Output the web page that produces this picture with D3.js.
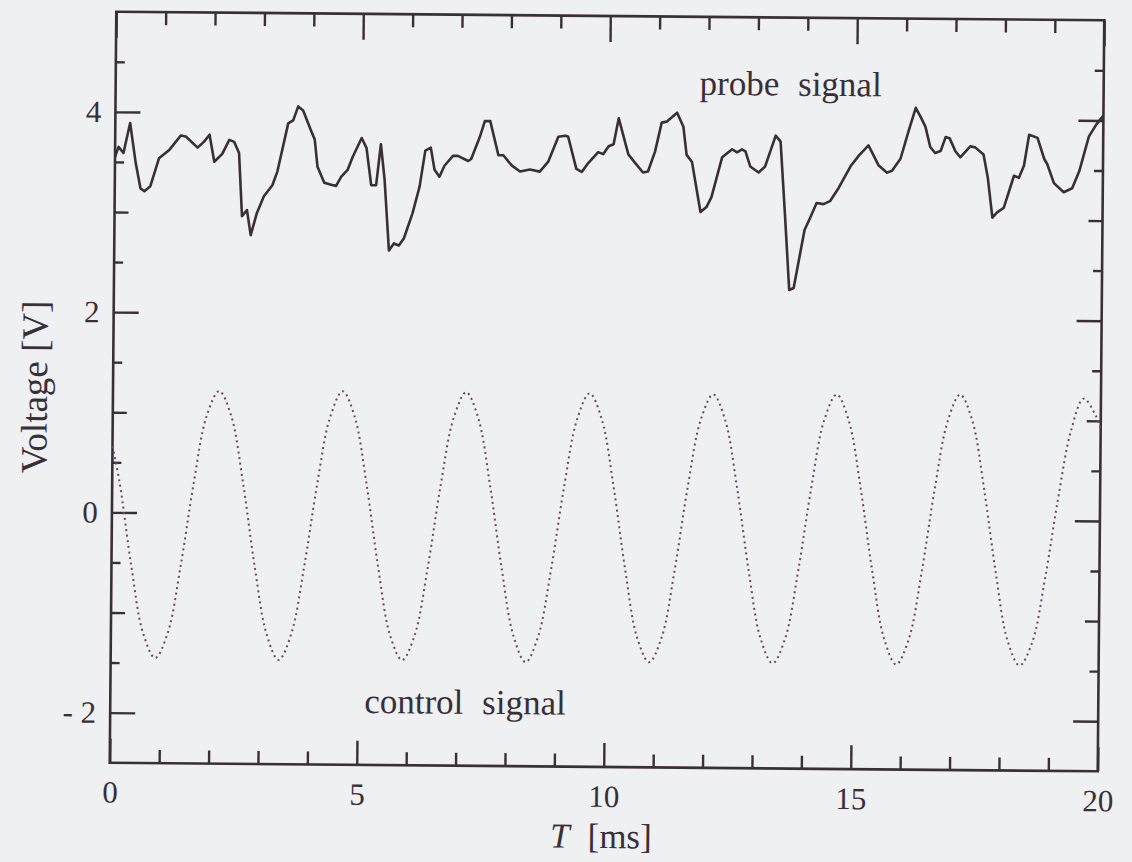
<!DOCTYPE html>
<html>
<head>
<meta charset="utf-8">
<script src="https://cdn.jsdelivr.net/npm/d3@7"></script>
<style>
  html, body { margin: 0; padding: 0; background: #eef0f1; }
  svg { display: block; }
</style>
</head>
<body>
<svg id="chart" width="1132" height="862"></svg>
<script>
// tick values
const xTicksMajor = [0, 5, 10, 15, 20];
const xTicksMinor = [1, 2, 3, 4, 6, 7, 8, 9, 11, 12, 13, 14, 16, 17, 18, 19];
const yTicksMajor = [-2, 0, 2, 4];
const yTicksMid = [-1, 1, 3];
const yTicksMinor = [-1.5, -0.5, 0.5, 1.5, 2.5, 3.5, 4.5];

// probe signal (T in ms, V)
const probeT = [
  0.00, 0.07, 0.17, 0.30, 0.42, 0.52, 0.60, 0.72, 0.89, 1.09, 1.33, 1.43, 1.67, 1.80, 1.91,
  2.01, 2.17, 2.31, 2.41, 2.51, 2.58, 2.68, 2.76, 2.88, 3.02, 3.19, 3.29, 3.50, 3.60, 3.70,
  3.80, 3.97, 4.04, 4.10, 4.24, 4.38, 4.48, 4.58, 4.71, 4.81, 4.99, 5.09, 5.19, 5.29, 5.38,
  5.46, 5.56, 5.66, 5.76, 5.86, 6.03, 6.17, 6.28, 6.39, 6.47, 6.57, 6.67, 6.84, 6.94, 7.15,
  7.21, 7.38, 7.48, 7.59, 7.76, 7.86, 8.03, 8.20, 8.40, 8.60, 8.77, 8.97, 9.11, 9.17, 9.34,
  9.45, 9.58, 9.78, 9.88, 9.99, 10.09, 10.19, 10.29, 10.39, 10.52, 10.69, 10.79, 10.93, 11.06, 11.16,
  11.37, 11.50, 11.57, 11.68, 11.86, 11.98, 12.08, 12.29, 12.49, 12.59, 12.69, 12.76, 12.86, 13.03, 13.16,
  13.37, 13.47, 13.57, 13.67, 13.76, 13.97, 14.08, 14.21, 14.35, 14.48, 14.65, 14.89, 15.06, 15.25, 15.46,
  15.63, 15.73, 15.90, 16.06, 16.20, 16.30, 16.40, 16.50, 16.60, 16.71, 16.81, 16.89, 17.01, 17.11, 17.31,
  17.41, 17.58, 17.67, 17.77, 17.86, 18.00, 18.20, 18.30, 18.40, 18.50, 18.67, 18.81, 18.87, 19.01, 19.21,
  19.38, 19.52, 19.71, 19.86, 20.00
];
const probeV = [
  3.55, 3.65, 3.59, 3.89, 3.49, 3.24, 3.21, 3.26, 3.54, 3.62, 3.77, 3.76, 3.65, 3.71, 3.78,
  3.51, 3.59, 3.73, 3.71, 3.60, 2.97, 3.03, 2.78, 3.00, 3.17, 3.28, 3.42, 3.90, 3.93, 4.07,
  4.03, 3.82, 3.74, 3.47, 3.31, 3.29, 3.28, 3.37, 3.44, 3.57, 3.76, 3.66, 3.29, 3.29, 3.70,
  3.35, 2.64, 2.71, 2.69, 2.76, 3.01, 3.28, 3.64, 3.67, 3.45, 3.38, 3.49, 3.59, 3.59, 3.54,
  3.56, 3.78, 3.94, 3.94, 3.60, 3.60, 3.50, 3.44, 3.46, 3.44, 3.54, 3.79, 3.80, 3.79, 3.47,
  3.44, 3.53, 3.64, 3.62, 3.70, 3.72, 3.98, 3.80, 3.62, 3.54, 3.44, 3.45, 3.65, 3.94, 3.95,
  4.04, 3.90, 3.62, 3.55, 3.05, 3.10, 3.20, 3.60, 3.68, 3.65, 3.68, 3.66, 3.51, 3.45, 3.51,
  3.82, 3.76, 3.04, 2.28, 2.30, 2.88, 3.00, 3.15, 3.14, 3.17, 3.30, 3.52, 3.63, 3.73, 3.53,
  3.46, 3.48, 3.60, 3.88, 4.11, 4.02, 3.92, 3.72, 3.66, 3.68, 3.82, 3.81, 3.68, 3.62, 3.73,
  3.72, 3.65, 3.42, 3.02, 3.07, 3.12, 3.44, 3.42, 3.54, 3.85, 3.82, 3.61, 3.56, 3.37, 3.28,
  3.32, 3.49, 3.84, 3.96, 4.05
];

// control signal, sampled off the dotted curve
const controlT = [
  0.00,
  0.15, 0.40, 0.65, 0.90, 1.15, 1.40, 1.65, 1.90, 2.15, 2.40,
  2.65, 2.90, 3.15, 3.40, 3.65, 3.90, 4.15, 4.40, 4.65, 4.90,
  5.15, 5.40, 5.65, 5.90, 6.15, 6.40, 6.65, 6.90, 7.15, 7.40,
  7.65, 7.90, 8.15, 8.40, 8.65, 8.90, 9.15, 9.40, 9.65, 9.90,
  10.15, 10.40, 10.65, 10.90, 11.15, 11.40, 11.65, 11.90, 12.15, 12.40,
  12.65, 12.90, 13.15, 13.40, 13.65, 13.90, 14.15, 14.40, 14.65, 14.90,
  15.15, 15.40, 15.65, 15.90, 16.15, 16.40, 16.65, 16.90, 17.15, 17.40,
  17.65, 17.90, 18.15, 18.40, 18.65, 18.90, 19.15, 19.40, 19.65, 19.90,
  20.00
];
const controlV = [
  0.66,
  0.30, -0.53, -1.20, -1.45, -1.20, -0.53, 0.30, 0.97, 1.22, 0.97,
  0.30, -0.53, -1.20, -1.46, -1.20, -0.53, 0.30, 0.97, 1.23, 0.97,
  0.30, -0.53, -1.20, -1.45, -1.20, -0.53, 0.30, 0.97, 1.23, 0.97,
  0.30, -0.53, -1.20, -1.46, -1.20, -0.53, 0.30, 0.97, 1.23, 0.97,
  0.30, -0.53, -1.20, -1.45, -1.20, -0.53, 0.30, 0.97, 1.23, 0.97,
  0.30, -0.53, -1.20, -1.45, -1.20, -0.53, 0.30, 0.98, 1.24, 0.98,
  0.31, -0.52, -1.19, -1.45, -1.20, -0.53, 0.30, 0.98, 1.25, 0.99,
  0.31, -0.52, -1.20, -1.45, -1.22, -0.58, 0.22, 0.90, 1.22, 1.05,
  0.92
];

const W = 1132, H = 862;
const plotLeft = 113, plotRight = 1101, plotTop = 16, plotBottom = 767;
const ink = "#3a2f36";
const serif = "'Liberation Serif', 'Times New Roman', 'DejaVu Serif', serif";

const svg = d3.select("#chart");
svg.append("rect").attr("width", W).attr("height", H).attr("fill", "#eef0f1");

// the printed page is a touch rotated in the scan
const g = svg.append("g").attr("transform", "rotate(0.5, 607, 391.5)");

const x = d3.scaleLinear().domain([0, 20]).range([plotLeft, plotRight]);
const y = d3.scaleLinear().domain([-2.5, 5]).range([plotBottom, plotTop]);

const yFmt = d => d < 0 ? "- " + Math.abs(d) : String(d);

function addAxis(axis, tx, ty) {
  const a = g.append("g")
    .attr("transform", `translate(${tx},${ty})`)
    .call(axis);
  // d3 puts its own font on the group, so override afterwards
  a.attr("color", ink);
  a.select(".domain").remove();
  a.selectAll(".tick line").attr("stroke-width", 2.4);
  a.selectAll(".tick text")
    .attr("fill", ink)
    .style("font-family", serif)
    .style("font-size", "31px");
  return a;
}

// bottom
addAxis(d3.axisBottom(x).tickValues(xTicksMajor).tickSize(-24).tickPadding(18).tickFormat(d3.format("d")), 0, plotBottom);
addAxis(d3.axisBottom(x).tickValues(xTicksMinor).tickSize(-13).tickFormat(""), 0, plotBottom);
// top
addAxis(d3.axisTop(x).tickValues(xTicksMajor).tickSize(-26).tickFormat(""), 0, plotTop);
addAxis(d3.axisTop(x).tickValues(xTicksMinor).tickSize(-13).tickFormat(""), 0, plotTop);
// left
addAxis(d3.axisLeft(y).tickValues(yTicksMajor).tickSize(-25).tickPadding(14).tickFormat(yFmt), plotLeft, 0);
addAxis(d3.axisLeft(y).tickValues(yTicksMid).tickSize(-14).tickFormat(""), plotLeft, 0);
addAxis(d3.axisLeft(y).tickValues(yTicksMinor).tickSize(-9).tickFormat(""), plotLeft, 0);
// right
addAxis(d3.axisRight(y).tickValues(yTicksMajor).tickSize(-25).tickFormat(""), plotRight, 0);
addAxis(d3.axisRight(y).tickValues(yTicksMid).tickSize(-14).tickFormat(""), plotRight, 0);
addAxis(d3.axisRight(y).tickValues(yTicksMinor).tickSize(-9).tickFormat(""), plotRight, 0);

// frame
g.append("rect")
  .attr("x", plotLeft).attr("y", plotTop)
  .attr("width", plotRight - plotLeft).attr("height", plotBottom - plotTop)
  .attr("fill", "none")
  .attr("stroke", ink)
  .attr("stroke-width", 2.6);

// control signal (dotted)
const controlLine = d3.line()
  .x((d, i) => x(controlT[i]))
  .y(d => y(d))
  .curve(d3.curveCatmullRom.alpha(0.5));

g.append("path")
  .attr("d", controlLine(controlV))
  .attr("fill", "none")
  .attr("stroke", "#6a4a62")
  .attr("stroke-width", 2)
  .attr("stroke-dasharray", "2,3.6");

// probe signal
const probeLine = d3.line()
  .x((d, i) => x(probeT[i]))
  .y(d => y(d));

g.append("path")
  .attr("d", probeLine(probeV))
  .attr("fill", "none")
  .attr("stroke", ink)
  .attr("stroke-width", 2.6)
  .attr("stroke-linejoin", "round");

// series labels
g.append("text")
  .attr("x", 697).attr("y", 94)
  .style("font-family", serif).style("font-size", "35px")
  .attr("word-spacing", 10)
  .attr("fill", ink)
  .text("probe signal");

g.append("text")
  .attr("x", 367).attr("y", 715)
  .style("font-family", serif).style("font-size", "35px")
  .attr("word-spacing", 10)
  .attr("fill", ink)
  .text("control signal");

// axis titles
const xt = g.append("text")
  .attr("x", 554).attr("y", 848)
  .style("font-family", serif).style("font-size", "35px")
  .attr("fill", ink);
xt.append("tspan").attr("font-style", "italic").text("T");
xt.append("tspan").attr("dx", 18).text("[ms]");

g.append("text")
  .attr("transform", "translate(47,392) rotate(-90)")
  .attr("text-anchor", "middle")
  .style("font-family", serif).style("font-size", "37px")
  .attr("fill", ink)
  .text("Voltage [V]");
</script>
</body>
</html>
